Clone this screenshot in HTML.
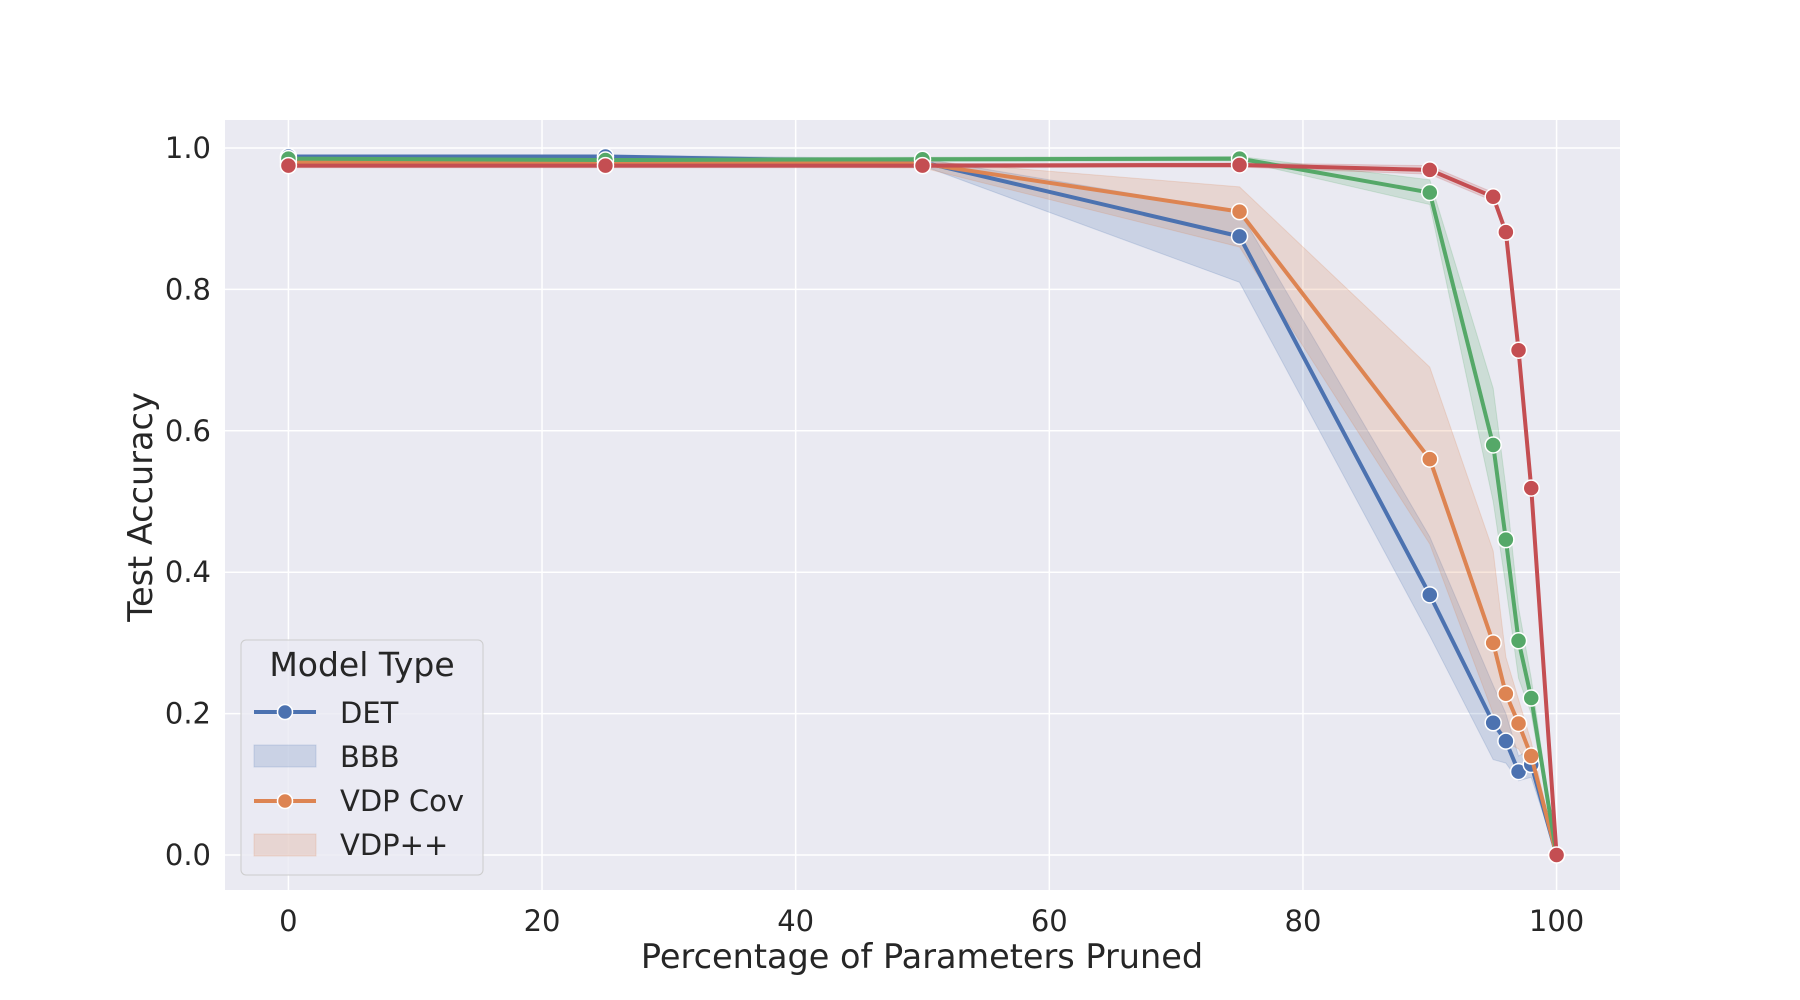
<!DOCTYPE html>
<html><head><meta charset="utf-8"><style>
body{margin:0;background:#fff}
svg{display:block;font-family:"DejaVu Sans","Liberation Sans",sans-serif}
</style></head><body>
<svg id="chart" width="1800" height="1000">
<rect x="225" y="120" width="1395" height="770" fill="#eaeaf2"/>
<g id="grid"></g><g id="bands"></g><g id="lines"></g><g id="axes"></g>
<g id="legend" transform="translate(0,-4)">
<rect x="241" y="644" width="242" height="235" rx="5" fill="#eaeaf2" fill-opacity="0.8" stroke="#ccc"/>
<text x="362" y="680" font-size="33" text-anchor="middle" fill="#262626">Model Type</text>
<g><line x1="254" y1="716" x2="316" y2="716" stroke="#4c72b0" stroke-width="4"/><circle cx="285" cy="716" r="7.5" fill="#4c72b0" stroke="#fff" stroke-width="1.5"/><text x="340" y="727" font-size="29" fill="#262626">DET</text></g>
<g><rect x="254" y="749" width="62" height="22" fill="#4c72b0" fill-opacity="0.2" stroke="#4c72b0" stroke-opacity="0.2"/><text x="340" y="771" font-size="29" fill="#262626">BBB</text></g>
<g><line x1="254" y1="805" x2="316" y2="805" stroke="#dd8452" stroke-width="4"/><circle cx="285" cy="805" r="7.5" fill="#dd8452" stroke="#fff" stroke-width="1.5"/><text x="340" y="815" font-size="29" fill="#262626">VDP Cov</text></g>
<g><rect x="254" y="838" width="62" height="22" fill="#dd8452" fill-opacity="0.2" stroke="#dd8452" stroke-opacity="0.2"/><text x="340" y="859" font-size="29" fill="#262626">VDP++</text></g>
</g>
</svg>
<script>
const xVals=[0,25,50,75,90,95,96,97,98,100];
const xTicks=[0,20,40,60,80,100];
const yTicks=[0.0,0.2,0.4,0.6,0.8,1.0];
const detY=[0.988,0.988,0.980,0.875,0.368,0.187,0.161,0.118,0.128,0];
const detLo=[0.985,0.985,0.975,0.81,0.31,0.135,0.13,0.105,0.11,0];
const detHi=[0.99,0.99,0.985,0.91,0.45,0.24,0.2,0.14,0.15,0];
const vdpY=[0.980,0.980,0.978,0.910,0.560,0.300,0.228,0.186,0.140,0];
const vdpLo=[0.975,0.975,0.972,0.86,0.44,0.2,0.16,0.15,0.12,0];
const vdpHi=[0.985,0.985,0.982,0.945,0.69,0.43,0.28,0.22,0.16,0];
const bbbY=[0.985,0.983,0.984,0.985,0.937,0.580,0.446,0.303,0.222,0];
const bbbLo=[0.982,0.98,0.981,0.982,0.92,0.5,0.38,0.25,0.2,0];
const bbbHi=[0.988,0.986,0.987,0.988,0.955,0.66,0.52,0.35,0.25,0];
const vppY=[0.975,0.975,0.975,0.976,0.969,0.931,0.881,0.714,0.519,0];
const vppLo=[0.972,0.972,0.972,0.973,0.963,0.925,0.875,0.705,0.51,0];
const vppHi=[0.978,0.978,0.978,0.979,0.975,0.937,0.887,0.723,0.528,0];
const NS='http://www.w3.org/2000/svg';
const sx=v=>225+(v+5)*1395/110;
const sy=v=>855-v*707;
function mk(p,t,a){const e=document.createElementNS(NS,t);for(const k in a)e.setAttribute(k,a[k]);p.appendChild(e);return e;}
const grid=document.getElementById('grid'),axes=document.getElementById('axes');
xTicks.forEach(t=>{
const l=mk(grid,'line',{x1:sx(t),x2:sx(t),y1:120,y2:890,stroke:'#fff','stroke-width':1.5});


const tx=mk(axes,'text',{x:sx(t),y:931,'font-size':29,'text-anchor':'middle',fill:'#262626'});tx.textContent=t;


});
yTicks.forEach(t=>{
const l=mk(grid,'line',{x1:225,x2:1620,y1:sy(t),y2:sy(t),stroke:'#fff','stroke-width':1.5});


const tx=mk(axes,'text',{x:211,y:sy(t)+10,'font-size':29,'text-anchor':'end',fill:'#262626'});tx.textContent=t.toFixed(1);


});
const xl=mk(axes,'text',{x:922,y:968,'font-size':33.5,'text-anchor':'middle',fill:'#262626'});xl.textContent='Percentage of Parameters Pruned';


const yl=mk(axes,'text',{x:0,y:0,'font-size':33.5,'text-anchor':'middle',fill:'#262626',transform:'translate(152,507) rotate(-90)'});yl.textContent='Test Accuracy';


const series=[['det',detY,detLo,detHi,'#4c72b0'],['vdp-cov',vdpY,vdpLo,vdpHi,'#dd8452'],['bbb',bbbY,bbbLo,bbbHi,'#55a868'],['vdp-plus-plus',vppY,vppLo,vppHi,'#c44e52']];
const bands=document.getElementById('bands'),lines=document.getElementById('lines');
series.forEach(([n,y,lo,hi,c])=>{
const pts=xVals.map((x,i)=>sx(x)+','+sy(hi[i])).concat(xVals.map((x,i)=>sx(x)+','+sy(lo[i])).reverse());
const b=mk(bands,'polygon',{points:pts.join(' '),fill:c,'fill-opacity':0.2,stroke:c,'stroke-opacity':0.2});


});
series.forEach(([n,y,lo,hi,c])=>{
const g=mk(lines,'g',{});


const pl=mk(g,'polyline',{points:xVals.map((x,i)=>sx(x)+','+sy(y[i])).join(' '),fill:'none',stroke:c,'stroke-width':4,'stroke-linejoin':'round'});


xVals.forEach((x,i)=>{
const m=mk(g,'circle',{cx:sx(x),cy:sy(y[i]),r:8,fill:c,stroke:'#fff','stroke-width':1.5});


});
});
</script>
</body></html>
